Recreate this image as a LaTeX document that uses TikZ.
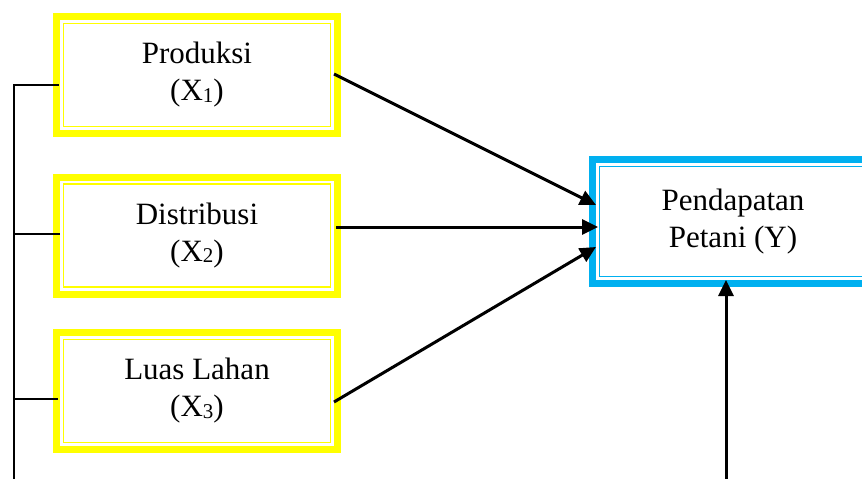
\documentclass[tikz,border=0pt]{standalone}
\usepackage{fontspec}
\setmainfont{Liberation Serif}
\usetikzlibrary{arrows.meta}
\definecolor{yel}{HTML}{FFFF00}
\definecolor{blu}{HTML}{00B0F0}
\newcommand{\sbs}[1]{\raisebox{-1.5pt}{\fontsize{21}{21}\selectfont #1}}
\begin{document}
\begin{tikzpicture}[x=1pt,y=-1pt,
  txt/.style={font=\fontsize{31}{37}\selectfont, align=center, text=black},
  ybox/.style={txt, draw=yel, line width=7pt, minimum width=281pt, minimum height=117pt, inner sep=0pt, outer sep=0pt},
  bbox/.style={txt, draw=blu, line width=7pt, minimum width=281pt, minimum height=124pt, inner sep=0pt, outer sep=0pt},
  inline/.style={line width=1.8pt},
  arr/.style={draw=black, line width=3pt, -{Triangle[length=16pt,width=15pt]}},
  ln/.style={draw=black, line width=2.6pt}
]
\path[use as bounding box, clip] (0,0) rectangle (862,479);
\fill[white] (0,0) rectangle (862,479);

\node[ybox] (p1) at (197,75) {Produksi\\(X\sbs{1})};
\node[ybox] (p2) at (197,235.5) {Distribusi\\(X\sbs{2})};
\node[ybox] (p3) at (197,391) {Luas Lahan\\(X\sbs{3})};
\node[bbox] (y) at (733,221.5) {Pendapatan\\Petani (Y)};

\foreach \n in {p1,p2,p3}
  \draw[inline, yel] ([shift={(7pt,-7pt)}]\n.north west) rectangle ([shift={(-7pt,7pt)}]\n.south east);
\draw[inline, blu] ([shift={(7pt,-7pt)}]y.north west) rectangle ([shift={(-7pt,7pt)}]y.south east);

% arrows to Y
\draw[arr] ([xshift=-3.5pt,yshift=1pt]p1.east) -- ([shift={(3.5pt,16.5pt)}]y.west);
\coordinate (s2) at ([xshift=-1.5pt,yshift=8.5pt]p2.east);
\draw[arr] (s2) -- ([xshift=5.5pt]s2 -| y.west);
\draw[arr] ([xshift=-3.5pt,yshift=-11pt]p3.east) -- ([shift={(3.5pt,-25.5pt)}]y.west);

% vertical arrow from below
\coordinate (bot) at (726,479);
\draw[arr] (bot) -- ([yshift=3.5pt]bot |- y.south);

% left bracket
\coordinate (bl) at (14,479);
\draw[ln] (bl) |- ([shift={(2.5pt,-10pt)}]p1.west);
\coordinate (t2) at ([shift={(3pt,1.5pt)}]p2.west);
\draw[ln] (t2) -- (t2 -| bl);
\coordinate (t3) at ([shift={(1.5pt,-8pt)}]p3.west);
\draw[ln] (t3) -- (t3 -| bl);
\end{tikzpicture}
\end{document}
